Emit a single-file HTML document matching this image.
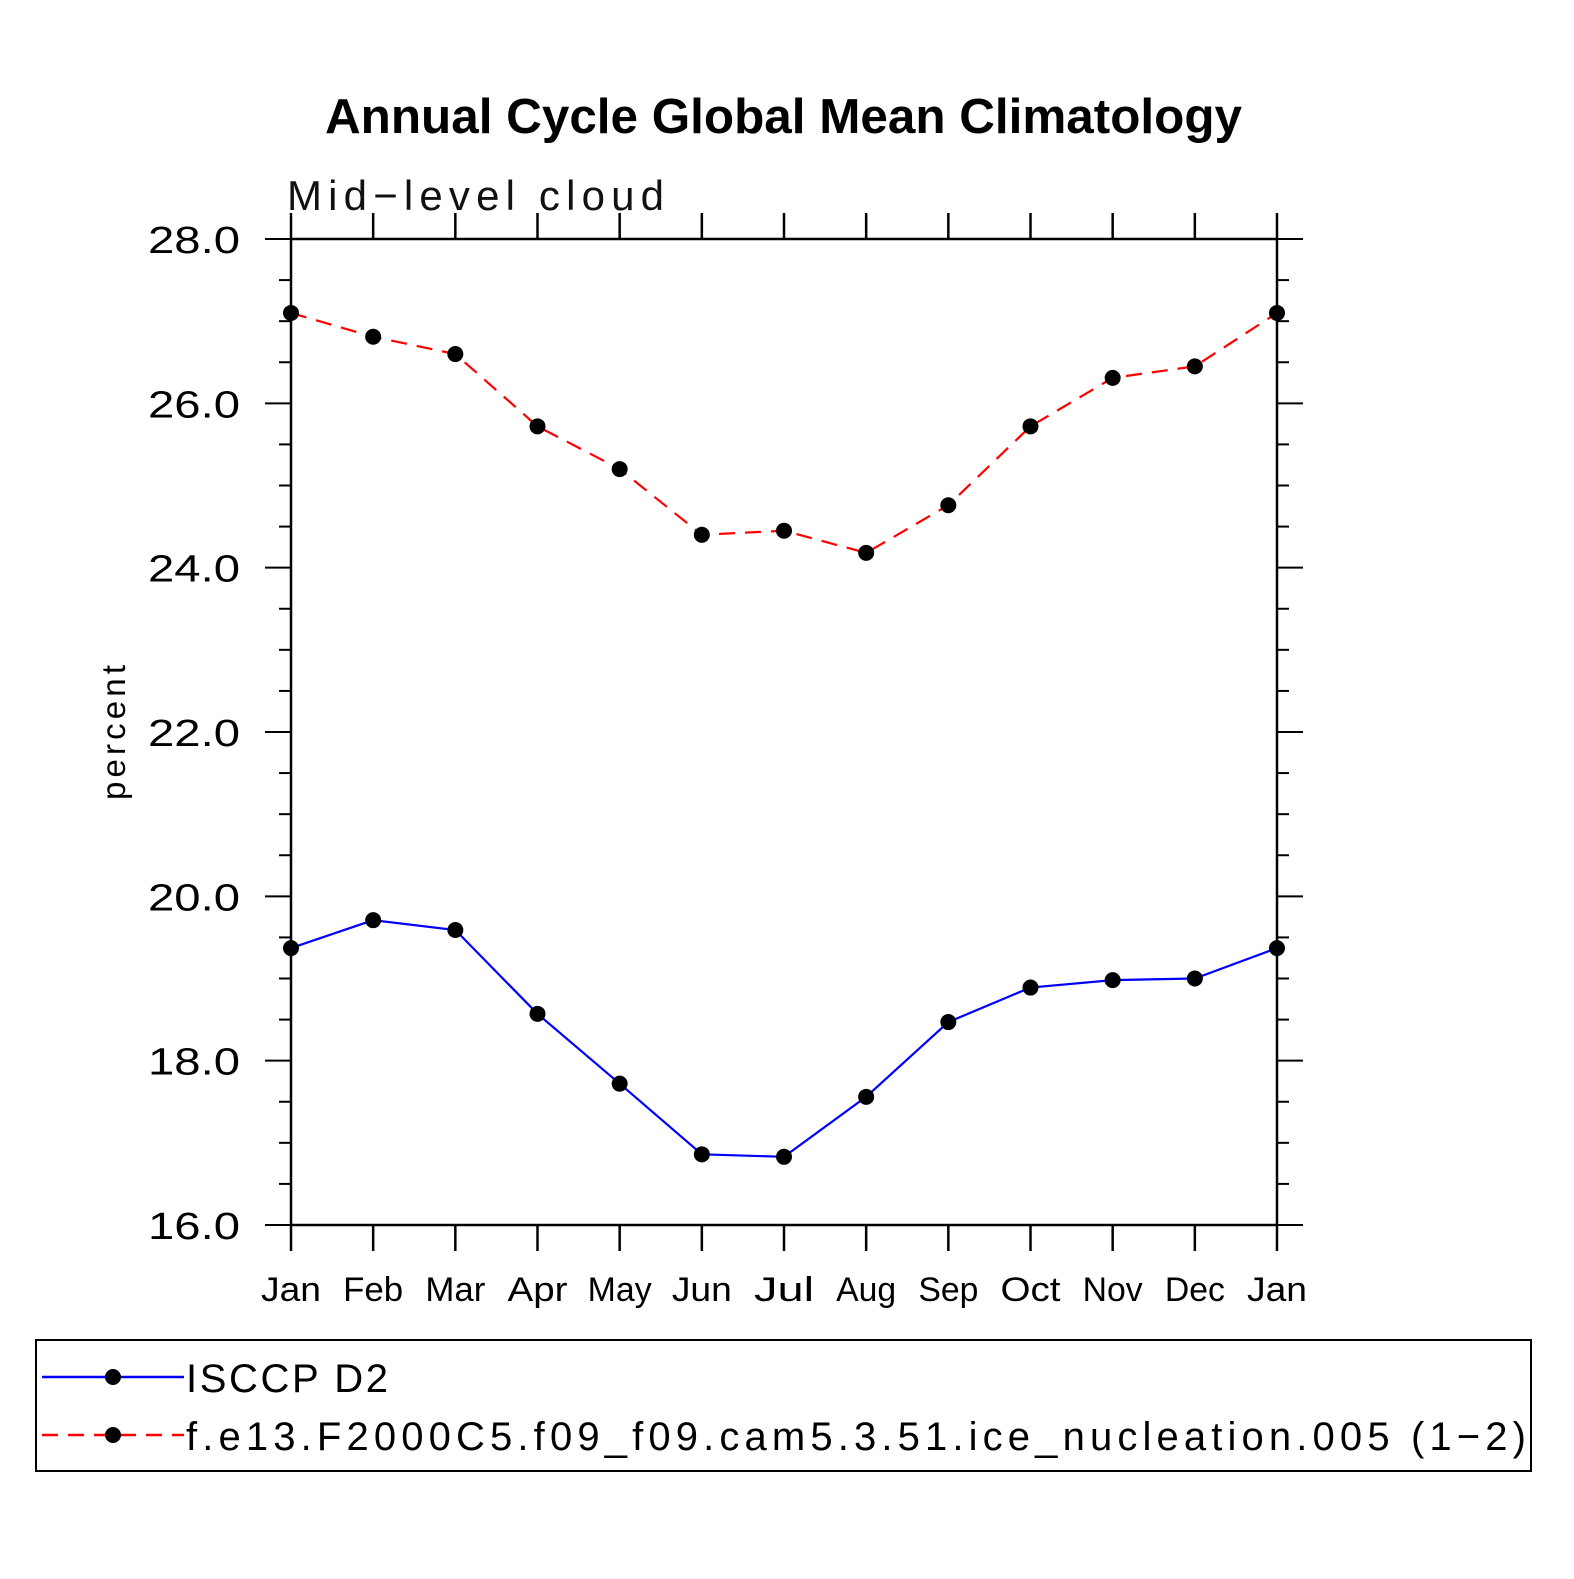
<!DOCTYPE html>
<html><head><meta charset="utf-8"><style>
html,body{margin:0;padding:0;background:#fff}
svg text{font-family:"Liberation Sans",sans-serif}
</style></head><body>
<svg id="chart" width="1574" height="1574" viewBox="0 0 1574 1574" xmlns="http://www.w3.org/2000/svg">
<text x="325" y="133" font-size="49" font-weight="bold" textLength="917" lengthAdjust="spacingAndGlyphs">Annual Cycle Global Mean Climatology</text>
<text x="287" y="210" font-size="42" fill="#111" textLength="377" lengthAdjust="spacing">Mid−level cloud</text>
<text transform="translate(125,800) rotate(-90)" font-size="33" textLength="135" lengthAdjust="spacing">percent</text>
<g id="axes"></g>
<g id="series"></g>
<rect x="36" y="1340" width="1495" height="131" fill="none" stroke="#000" stroke-width="2"/>
<g>
<line x1="42" y1="1377" x2="184" y2="1377" stroke="#00f" stroke-width="2.5"/>
<circle cx="113" cy="1377" r="8"/>
<text x="186" y="1392" font-size="40" textLength="202" lengthAdjust="spacing">ISCCP D2</text>
</g>
<g>
<line x1="42" y1="1435" x2="184" y2="1435" stroke="#f00" stroke-width="2.5" stroke-dasharray="16,10"/>
<circle cx="113" cy="1435" r="8"/>
<text x="186" y="1450" font-size="40" textLength="1340">f.e13.F2000C5.f09_f09.cam5.3.51.ice_nucleation.005 (1−2)</text>
</g>
</svg>
<script>
const months = ["Jan","Feb","Mar","Apr","May","Jun","Jul","Aug","Sep","Oct","Nov","Dec","Jan"];
const isccp = [19.37,19.71,19.59,18.57,17.72,16.86,16.83,17.56,18.47,18.89,18.98,19.00,19.37];
const model = [27.10,26.81,26.60,25.72,25.20,24.40,24.45,24.18,24.76,25.72,26.31,26.45,27.10];
const yTicks = ["16.0","18.0","20.0","22.0","24.0","26.0","28.0"];
const yMin = 16, yMax = 28;
const X0=291, X1=1277, Y0=1225, Y1=239;
const NS="http://www.w3.org/2000/svg";
function xs(i){return X0+(X1-X0)*i/(months.length-1);}
function ys(v){return Y0-(Y0-Y1)*(v-yMin)/(yMax-yMin);}
function mk(tag,attrs,parent){const e=document.createElementNS(NS,tag);for(const k in attrs)e.setAttribute(k,attrs[k]);parent.appendChild(e);return e;}
const axes=document.getElementById('axes');
const frame=mk('rect',{x:X0,y:Y1,width:X1-X0,height:Y0-Y1,fill:'none',stroke:'#000','stroke-width':2.5},axes);


months.forEach((m,i)=>{
  const x=xs(i);
  mk('line',{x1:x,y1:Y1-26,x2:x,y2:Y1,stroke:'#000','stroke-width':2.5},axes);
  mk('line',{x1:x,y1:Y0,x2:x,y2:Y0+26,stroke:'#000','stroke-width':2.5},axes);
  const w=m.length*20+(m==="May"?4:0);
  const t=mk('text',{x:x,y:1301,'text-anchor':'middle','font-size':34,textLength:w,lengthAdjust:'spacingAndGlyphs'},axes);
  t.textContent=m;
  
  
});
for(let v=yMin;v<=yMax+1e-9;v+=0.5){
  const y=ys(v), major=Math.abs(v-Math.round(v/2)*2)<1e-6;
  const L=major?26:12;
  mk('line',{x1:X0-L,y1:y,x2:X0,y2:y,stroke:'#000','stroke-width':2},axes);
  mk('line',{x1:X1,y1:y,x2:X1+L,y2:y,stroke:'#000','stroke-width':2},axes);
}
yTicks.forEach(s=>{
  const t=mk('text',{x:148,y:ys(parseFloat(s))+14,'font-size':38,textLength:92,lengthAdjust:'spacingAndGlyphs'},axes);
  t.textContent=s;
  
  
});
const ser=document.getElementById('series');
function draw(vals,color,dash,name){
  const pts=vals.map((v,i)=>xs(i)+','+ys(v)).join(' ');
  const pl=mk('polyline',{points:pts,fill:'none',stroke:color,'stroke-width':2.2},ser);
  if(dash)pl.setAttribute('stroke-dasharray',dash);
  
  
  vals.forEach((v,i)=>{
    const c=mk('circle',{cx:xs(i),cy:ys(v),r:8,fill:'#000'},ser);
    
    
  });
}
draw(isccp,'#00f',null,'isccp');
draw(model,'#f00','16,10','model');
</script>
</body></html>
